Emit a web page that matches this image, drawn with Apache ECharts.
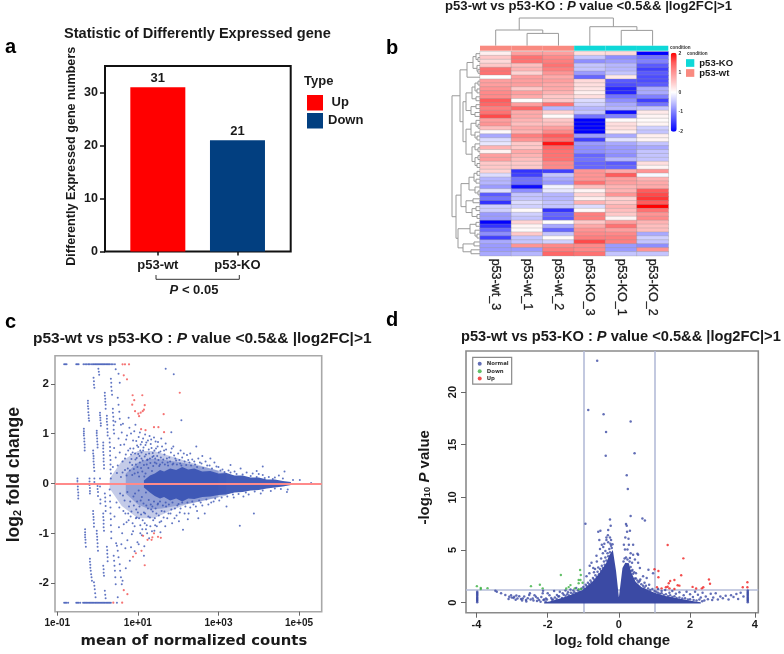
<!DOCTYPE html>
<html><head><meta charset="utf-8">
<script src="https://cdn.jsdelivr.net/npm/echarts@6/dist/echarts.min.js"></script>
<style>html,body{margin:0;padding:0;background:#fff}#c{width:784px;height:654px}</style></head>
<body><div id="c"></div>
<script>
const barCategories=['p53-wt','p53-KO'];
const barUp=[31,null];
const barDown=[null,21];
const barTicks=[0,10,20,30];
const heatColumns=['p53-wt_3','p53-wt_1','p53-wt_2','p53-KO_3','p53-KO_1','p53-KO_2'];
const annotWt=[1,1,1,null,null,null];
const annotKo=[null,null,null,1,1,1];
const heatRows=[
[.15,.9,.9,.3,.35,-2],[.5,1.3,1.1,-.5,-.9,-1.1],[.35,1.3,1.2,-.9,-.8,-1],[.5,.6,1.3,-.5,-.6,-1.3],[1.3,.7,1.2,-.5,-.6,-1.5],[1.3,.4,1,-.8,-.5,-1.3],
[0,.9,.8,-1.2,.2,-1.4],[.9,.9,.9,.35,-1.3,-1.4],[.9,.9,.8,.3,-1.4,-1.3],[1,.5,.8,.25,-1.7,-.7],[1.1,.9,.7,.15,-1.7,-.7],[1.1,.8,.5,.3,-1.1,-1],
[1.5,0,.5,-.3,-.9,-1.5],[1.4,.9,1.3,-.4,-.7,-1.1],[1.2,1.4,-.6,-.6,-.6,-.5],[1.3,.8,.4,-.5,-1.9,.2],[1.6,.8,.05,-1.1,-1,.1],[.9,.7,.5,-2,.05,.05],
[1,.6,.6,-2,.3,.1],[.6,.8,.9,-2,.3,-.4],[.05,.7,1.1,-2,.15,-.5],[-.7,1.2,1.5,-.8,-.7,.15],[-.3,1,1.3,-1.5,-.25,.1],[-.2,.5,1.9,-.8,-.7,-.5],
[.7,.5,1.4,-.9,-.8,-.7],[.1,.8,1.3,-.9,-.8,-.5],[.9,.7,1.3,-1.2,-.9,-.5],[.9,.6,1.3,-1.1,-.6,-.5],[.5,.5,1.1,-1.2,-1.3,.3],[.5,.5,1.1,-1.2,-1.2,.1],
[.4,-1.6,-1.5,1,.8,1],[-.3,-1.5,-.5,1,1.5,-.05],[-.6,-1.1,-.7,1,.9,.7],[-.6,-1.1,-.8,1.3,.9,.8],[-.8,-1.9,-.1,.6,.7,.8],[-.25,-.9,-.2,.1,.7,1.5],
[-1.3,-.5,-.6,.4,1,1.6],[-1.1,-.5,-.6,.15,.4,1.7],[-1.6,-.3,-.5,.7,.5,1.5],[-.4,-.4,-.5,-.3,.7,2],[-.4,.05,-1.6,.05,.6,1.3],[-.8,-.4,-1.2,1.2,.5,1],
[-.8,-.5,-1.3,1.2,.1,1.1],[-2,.4,0,.5,.9,.7],[-1.6,.1,-.7,.8,1.3,.6],[-1.2,.05,-1.2,1,.9,.6],[-.9,.5,-.5,1.1,1.1,-.7],[-1.5,-.5,.05,1.2,1.2,-.4],
[-.7,-.5,-.4,1.6,1.2,-.5],[-.8,1,1.1,1.1,-.8,-.9],[-.8,-.8,1.2,1.1,-.8,1],[-.7,-.6,1.4,1.3,-.5,-.5]];
const colorTickLabels=[2,1,0,-1,-2];
const topTree=[27.7,[15.7,0,[12.3,1,2]],[19,3,[15.3,4,5]]];
const leftTree=[28,
 [20,[13,[7,[4,0,[2,1,2]],[3,3,[2,4,5]]],6],
  [17,[14,[8,[5,[2,7,8],[3,9,10]],[4,11,12]],[9,[4,13,14],[5,15,16]]],
      [14,[9,[4,17,[2,18,19]],[5,20,[3,21,22]]],[8,[5,23,[2,24,25]],[5,[2,26,27],[3,28,29]]]]]],
 [24,[19,[11,[6,[3,30,31],[4,32,33]],[5,34,[2,35,36]]],[14,[7,37,38],[8,[4,39,40],[3,41,42]]]],
     [22,[10,[4,43,44],[5,45,[3,46,47]]],[17,[6,48,49],[9,50,51]]]]];

const maXTicks=[-1,1,3,5];
const maXLabels=['1e-01','1e+01','1e+03','1e+05'];
const maYTicks=[-2,-1,0,1,2];
const maCoreLogMean=[1.15,1.3,1.42,1.55,1.65,1.8,1.95,2.1,2.25,2.4,2.6,2.8,3,3.2,3.4,3.6,3.8,4,4.2,4.4,4.6,4.8];
const maCoreUpper=[.06,.16,.2,.27,.24,.3,.27,.33,.28,.3,.24,.25,.2,.21,.16,.16,.12,.12,.08,.08,.05,.03];
const maCoreLower=[-.08,-.18,-.25,-.3,-.27,-.34,-.3,-.36,-.3,-.31,-.27,-.26,-.23,-.22,-.18,-.17,-.14,-.13,-.1,-.08,-.06,-.03];
const maMidLogMean=[.7,1,1.3,1.6,2,2.4,2.8,3.2];
const maMidUpper=[.2,.42,.5,.48,.43,.37,.3,.22];
const maMidLower=[-.2,-.42,-.52,-.5,-.44,-.38,-.31,-.24];
const maHaloLogMean=[.3,.6,1,1.4,1.8,2.2,2.6,3];
const maHaloUpper=[.1,.45,.65,.65,.55,.45,.35,.25];
const maHaloLower=[-.1,-.45,-.7,-.7,-.55,-.42,-.35,-.28];
const maCapTopX=[-.83,-.8,-.77,-.53,-.5,-.47,-.35,-.31,-.27,-.23,-.2,-.16,-.12,-.09,-.06,-.03,0,.03,.06,.09,.12,.15,.18,.21,.24,.27,.3,.34,.38,.43];
const maCapBottomX=[-.83,-.8,-.77,-.73,-.53,-.5,-.47,-.43,-.36,-.33,-.3,-.27,-.24,-.21,-.18,-.15,-.12,-.09,-.06,-.03,0,.03,.06,.09,.12,.15,.18,.21,.24,.27,.3,.33,.48];
const maStripes=[
[-.5,.1],[-.5,.05],[-.5,0],[-.49,-.06],[-.49,-.12],[-.48,-.18],[-.48,-.24],[-.48,-.3],
[-.34,1.1],[-.34,1.05],[-.34,1],[-.34,.96],[-.33,.9],[-.33,.84],[-.32,.78],[-.32,.72],[-.32,.66],
[-.31,-.92],[-.31,-.98],[-.31,-1.03],[-.31,-1.08],[-.3,-1.13],[-.3,-1.19],[-.29,-1.27],
[-.24,1.66],[-.24,1.61],[-.24,1.55],[-.23,1.5],[-.23,1.43],[-.22,1.37],[-.22,1.31],[-.21,1.26],
[-.2,.1],[-.2,.04],[-.2,-.03],[-.19,-.09],[-.19,-.15],[-.19,-.2],
[-.19,-1.51],[-.19,-1.57],[-.18,-1.63],[-.18,-1.69],[-.17,-1.75],[-.16,-1.82],[-.15,-1.88],[-.14,-1.95],
[-.11,.66],[-.11,.6],[-.1,.55],[-.1,.5],[-.1,.44],[-.09,.38],[-.09,.32],[-.08,.25],[-.08,.1],[-.08,.03],
[-.11,-.55],[-.11,-.61],[-.1,-.67],[-.1,-.73],[-.09,-.8],[-.09,-.87],[-.09,-1.98],[-.08,-2.05],[-.07,-2.12],[-.06,-2.2],[-.05,-2.28],
[-.1,2.12],[-.09,2.05],[-.09,1.98],[-.08,1.92],[.02,2.3],[.03,2.24],[.04,2.18],
[-.02,1.06],[-.02,1.01],[-.02,.96],[-.01,.9],[-.01,.84],[0,.78],[0,.72],
[-.02,-.95],[-.02,-1.01],[-.01,-1.07],[-.01,-1.13],[0,-1.2],[0,-1.27],[.01,-1.35],[0,-.05],[0,-.11],[.01,-.17],[.01,-.25],
[.06,1.42],[.06,1.37],[.07,1.32],[.07,1.27],[.08,1.21],[.08,1.16],[.06,.1],[.06,-.06],[.07,-.32],[.07,-.4],
[.14,.82],[.14,.76],[.14,.7],[.14,.63],[.15,.57],[.15,.5],[.15,.44],[.16,.37],[.16,.3],
[.14,-.6],[.14,-.67],[.15,-.74],[.15,-.81],[.15,-.88],[.16,-.95],[.14,-1.65],[.15,-1.72],[.15,-1.79],[.16,-1.85],
[.18,1.82],[.18,1.76],[.19,1.7],[.19,1.64],[.2,1.58],[.2,1.5],[.18,-.2],[.19,-.28],[.19,-.36],[.2,-.45],[.2,-.55],
[.23,1.36],[.23,1.3],[.23,1.24],[.24,1.18],[.24,1.1],[.25,1.03],[.25,.96],[.23,-1.27],[.24,-1.34],[.24,-1.41],[.25,-1.48],[.25,-1.56],[.18,-2.15],[.19,-2.23],[.2,-2.3],
[.3,.9],[.3,.82],[.31,.73],[.31,.65],[.31,.56],[.32,.47],[.32,.38],[.32,.28],[.33,.2],[.33,.1],[.3,-.12],[.31,-.24],[.31,-.36],[.32,-.48],[.32,-.6],[.33,-.72],[.33,-.84],[.34,-.97],[.34,-1.1],
[.33,2.1],[.34,2.02],[.34,1.94],[.35,1.86],[.36,1.78],[.38,1.5],[.38,1.42],[.39,1.34],[.39,1.26],[.4,1.17],[.4,1.08],[.41,1],
[.4,-1.45],[.41,-1.55],[.42,-1.65],[.43,-1.75],[.44,-1.88],[.45,-2.02],[.52,2.2],[.55,2.02],[.5,1.72],[.52,1.58],[.54,1.44],[.55,1.3],[.58,1.18],[.48,-1.25],[.5,-1.35],[.52,-1.48],[.55,-1.62],[.56,-1.75],[.58,-1.88],[.6,-2.02],[.45,2.29],[.5,-2.28]];
const maCloud=[
[.41,.71],[.45,.52],[.38,.33],[.52,.9],[.55,.62],[.48,.21],[.6,1.02],[.62,.44],[.66,.78],[.58,.13],[.7,.58],[.73,.96],[.75,.3],[.79,1.12],[.81,.7],[.84,.49],[.86,.17],[.88,.86],[.91,1.05],[.93,.6],[.95,.38],[.98,.76],[1,.22],[1.02,.93],[1.04,.55],[1.06,.66],[1.08,.31],[1.1,.83],[1.12,.46],[1.14,.72],[1.16,.14],[1.18,.98],[1.2,.58],[1.22,.38],[1.25,.86],[1.27,.68],[1.3,.5],[1.32,.79],[1.35,.25],[1.37,.61],[1.4,.92],[1.42,.42],[1.45,.7],[1.48,.55],[1.5,.83],[1.53,.35],[1.56,.64],[1.6,.74],[1.63,.48],[1.66,.58],[1.7,.68],[1.74,.42],[1.78,.52],[1.82,.62],[1.86,.38],[1.9,.56],[1.95,.46],[2,.6],[2.05,.4],[2.1,.52],[2.16,.44],[2.22,.57],[2.28,.42],[2.35,.48],[2.42,.38],[2.5,.5],[2.58,.4],[2.68,.44],[2.78,.36],[2.9,.42],[3,.33],[3.1,.28],[3.25,.26],[3.4,.24],[3.55,.3],[3.7,.22],[3.85,.2],[4,.19],[4.1,.17],[4.25,.13],[4.4,.12],[4.6,.1],
[.44,1.24],[.5,.36],[.57,.77],[.63,1.2],[.68,.27],[.71,.88],[.77,1.32],[.8,.42],[.83,1],[.87,.62],[.9,.29],[.94,1.18],[.97,.51],[1.01,.73],[1.05,1.02],[1.09,.62],[1.13,.9],[1.19,.77],[1.24,.48],[1.29,.95],[1.34,.71],[1.39,.55],[1.44,.84],[1.52,.62],[1.58,.9],[1.69,.8],[1.88,.74],[2.06,.66],[2.3,.6],[2.45,.74],[2.6,.55],[2.8,.5],[1.69,2.3],[1.89,2.19],[2.08,1.27],[1.83,1.03],[4.1,.34],[4.64,.24],[4.85,.07],[5.02,.07],[5.3,.01],[3.3,.37],[3.95,.25],[4.5,.16],
[.62,.22],[.68,.5],[.72,.16],[.76,.66],[.8,.26],[.83,.58],[.86,.37],[.89,.7],[.92,.2],[.94,.48],[.96,.85],[.99,.33],[1.01,.59],[1.03,.14],[1.05,.42],[1.07,.78],[1.09,.5],[1.11,.24],[1.13,.66],[1.15,.37],[1.17,.54],[1.19,.2],[1.21,.82],[1.23,.47],[1.26,.31],[1.28,.6],[1.31,.41],[1.33,.88],[1.36,.53],[1.38,.35],[1.41,.66],[1.43,.5],[1.46,.4],[1.49,.74],[1.51,.47],[1.55,.38],[1.57,.52],[1.61,.42],[1.65,.66],[1.67,.38],[1.72,.5],[1.75,.36],[1.8,.44],[1.84,.7],[1.88,.4],[1.93,.5],[1.97,.38],[2.03,.47],[2.08,.36],[2.14,.6],[2.2,.37],[2.25,.47],[2.32,.36],[2.4,.44],[2.47,.33],[2.54,.42],[2.62,.31],[2.72,.36],[2.84,.3],[2.95,.34],[3.05,.26],[3.15,.23],[3.3,.22],[3.45,.19],[3.6,.18],[3.8,.15],[3.95,.13],[4.15,.11],[4.35,.09],
[.42,-.66],[.47,-.38],[.53,-.88],[.56,-.2],[.61,-1],[.64,-.55],[.67,-.34],[.72,-.78],[.74,-1.14],[.78,-.46],[.82,-.66],[.85,-1.02],[.89,-.26],[.92,-.86],[.96,-.52],[.99,-1.18],[1.03,-.7],[1.07,-.34],[1.11,-.92],[1.15,-.58],[1.17,-.8],[1.21,-.44],[1.23,-1],[1.26,-.66],[1.31,-.86],[1.33,-.52],[1.38,-.74],[1.41,-.95],[1.46,-.6],[1.49,-.42],[1.54,-.78],[1.59,-.55],[1.64,-.68],[1.7,-.46],[1.76,-.6],[1.83,-.52],[1.91,-.7],[1.98,-.44],[2.04,-.58],[2.12,-.93],[2.18,-.46],[2.26,-.6],[2.38,-.42],[2.47,-.55],[2.56,-.38],[2.66,-.6],[2.75,-.42],[2.88,-.36],[3.02,-.34],[3.2,-.46],[3.38,-.28],[3.53,-.85],[3.62,-.26],[3.75,-.22],[3.88,-.6],[4.05,-.2],[4.3,-.15],[4.55,-.11],[4.7,-.17],[4.72,-.12],
[.46,-1.2],[.54,-.48],[.59,-1.22],[.65,-.82],[.69,-1.3],[.76,-.6],[.83,-1.28],[.88,-.96],[.92,-1.36],[.97,-.68],[1.02,-1.22],[1.06,-.84],[1.1,-1.04],[1.16,-1.26],[1.2,-.92],[1.28,-1.1],[1.36,-.46],[1.43,-.84],[1.56,-.98],[1.68,-.86],[1.85,-.8],[2.02,-.76],[2.24,-.72],[2.5,-.7],[1.15,-1.45],[.8,-1.55],[.7,-1.7],[.62,-1.95],
[.63,-.24],[.69,-.6],[.74,-.17],[.77,-.74],[.81,-.36],[.84,-.56],[.87,-.8],[.9,-.44],[.93,-.2],[.95,-.7],[.98,-.36],[1,-.58],[1.02,-.14],[1.04,-.46],[1.06,-1],[1.08,-.62],[1.1,-.27],[1.12,-.74],[1.14,-.4],[1.18,-.6],[1.2,-.18],[1.22,-.84],[1.25,-.5],[1.27,-.33],[1.3,-.68],[1.32,-.42],[1.35,-.96],[1.37,-.56],[1.4,-.36],[1.42,-.7],[1.44,-.5],[1.47,-.86],[1.5,-.4],[1.52,-.64],[1.55,-.36],[1.58,-.76],[1.62,-.44],[1.66,-.56],[1.69,-.38],[1.73,-.7],[1.77,-.42],[1.81,-.6],[1.86,-.38],[1.92,-.5],[1.96,-.64],[2.01,-.41],[2.06,-.5],[2.1,-.38],[2.16,-.6],[2.23,-.38],[2.3,-.48],[2.35,-.36],[2.44,-.46],[2.52,-.34],[2.6,-.44],[2.7,-.32],[2.82,-.38],[2.92,-.3],[3.08,-.28],[3.22,-.26],[3.36,-.22],[3.5,-.21],[3.68,-.18],[3.9,-.16],[4.1,-.14],[4.4,-.1]];
const maUpRed=[[.62,2.39],[.68,2.39],[.78,2.39],[.65,2.17],[.73,2.09],[.87,1.77],[.91,1.67],[1.11,1.77],[.86,1.58],[1.17,1.57],[.93,1.45],[1.01,1.4],[1.12,1.45],[1.15,1.48],[1.03,1.35],[1.07,1.42],[1.64,1.39],[2.04,1.82],[1.08,1.09],[1.19,1.07],[1.4,1.13],[1.51,1.13],[1.65,1.03]];
const maDownRed=[[1.4,-1],[1.36,-1.08],[1.13,-1.05],[1.24,-1.13],[1.34,-1.13],[1.5,-1.07],[1.57,-1.09],[1.09,-1.35],[.95,-1.4],[.88,-1.47],[1.17,-1.64],[.65,-2.14],[.74,-2.22],[.39,-2.39],[.61,-2.39]];

const vTicksX=[-4,-2,0,2,3.82];
const vTickXLabels=['-4','-2','0','2','4'];
const vTicksY=[0,5,10,15,20];
const vEdgeX=[-2.1,-1.95,-1.7,-1.5,-1.25,-1.02,-.74,-.55,-.36,-.27,-.17,-.08,0,.1,.18,.28,.34,.47,.63,1,1.3,1.8,2.1,2.3,2.3,-2.1];
const vEdgeY=[.04,.12,.36,.57,.88,1.2,2,2.8,3.75,4.5,5,3,.5,3.3,3.8,3.75,2.95,2,1.5,.95,.63,.32,.14,.04,-.08,-.08];
const vNormal=[
[-.61,22.97],[-.86,18.3],[-.43,17.9],[.33,17.2],[-.36,16.2],[.44,14.2],[-.37,13.96],[.22,12.1],[.25,10.8],[.33,8.23],[-.25,7.9],[.66,8],[.73,7.8],[-.94,7.5],[.2,7.47],[.22,7.3],[-.23,7.3],
[-.58,6.74],[-.52,6.84],[-.3,6.9],[.23,6.74],[.31,6.84],[.18,6.2],[.27,6.08],[-.31,6.4],[-.35,6.2],[-.25,6.2],[-.22,5.95],[-.55,5.95],[-.48,5.5],[-.35,5.95],[-.41,5.6],[-.3,5.75],[-.24,5.6],[-.44,5.3],[-.53,5.1],[-.63,4.45],[-.77,3.8],[-.82,3.5],[-.72,3.3],[-.67,3.2],[-.58,3.35],[-.83,2.8],[-.91,2.5],[-.5,4.2],[-.62,3.9],[-.7,2.9],[-.45,4.7],[-.38,4.9],
[.14,5.5],[.28,5.5],[.4,5.5],[.17,5.05],[.24,5.05],[.33,4.7],[.4,4.55],[.52,4.65],[.54,4.55],[.45,4.1],[.31,4.25],[.37,3.8],[.54,3.8],[.59,3.3],[.38,3.1],[.48,2.8],[.83,3.13],[.96,2.8],[.68,2.5],[.45,2.3],[.78,2.35],[.6,2.2],[.31,3],[.72,1.9],[.85,1.7],
[-3.47,1.14],[-3.43,1.04],[-3.31,.89],[-3.19,.73],[-3.08,.57],[-3.03,.7],[-2.94,.57],[-2.85,.41],[-2.8,.62],[-2.7,.41],[-2.61,.25],[-2.52,.73],[-2.42,.41],[-2.33,.57],[-2.24,.25],[-2.14,.9],[-2.05,.41],[-1.95,.7],[-2.96,.45],[-2.88,.68],[-2.75,.34],[-2.66,.6],[-2.56,.43],[-2.48,.3],[-2.37,.7],[-2.28,.42],[-2.18,.55],[-2.1,.3],[-2,.9],[-1.9,.45],[-1.82,1.1],[-1.74,.72],[-1.66,1.05],[-1.58,.9],[-1.5,1.15],[-1.43,1],[-1.36,1.25],[-1.28,1.15],[-1.2,1.4],[-1.85,.3],[-1.7,.6],[-2.13,1.14],[-2.5,.9],[-3.01,.5],
[-1.88,.28],[-1.8,.5],[-1.75,.35],[-1.68,.62],[-1.6,.45],[-1.55,.75],[-1.5,.65],[-1.45,.8],[-1.4,.68],[-1.35,.95],[-1.3,.85],[-1.25,1],[-1.2,.9],[-1.15,1.15],[-1.1,1.05],[-1.05,1.35],[-1,1.5],[-.97,1.3],[-.93,1.7],[-.9,1.55],[-.87,1.9],[-.83,1.75],[-.8,2.1],[-.77,1.95],[-.73,2.35],[-.7,2.2],[-.66,2.6],[-.62,2.45],[-.6,2.95],[-.56,2.7],[-.53,3.2],[-.5,3],[-.48,3.5],[-.45,3.3],[-.42,3.9],[-.4,3.6],[-.38,4.3],[-.35,4],[-.32,4.7],[-.3,4.4],[-.27,5.1],[-.25,4.8],[-.22,5.4],[-.2,5.2],[-.18,5.55],
[-2.3,.15],[-2.2,.08],[-2.12,.25],[-2.06,.12],[-2.02,.3],[-2.4,.2],[-2.6,.12],[-2.72,.2],[-2.9,.28],[-3.1,.35],
[.13,3.9],[.16,4.2],[.2,4.3],[.24,4.1],[.3,3.9],[.33,3.4],[.36,3],[.4,2.75],[.43,2.9],[.48,2.3],[.52,2.1],[.55,1.95],[.58,2.05],[.63,1.75],[.68,1.6],[.72,1.45],[.76,1.6],[.82,1.35],[.88,1.2],[.94,1.3],[1,1.1],[1.05,1.05],[1.1,.95],[1.15,.85],[1.2,.9],[1.26,.72],[1.32,.8],[1.38,.62],[1.44,.7],[1.5,.55],[1.56,.62],[1.62,.45],[1.7,.5],[1.78,.4],[1.86,.42],[1.94,.3],[2,.33],[2.1,.25],[2.18,.2],[2.26,.3],[2.34,.14],
[1.1,1.3],[1.2,1.1],[1.3,1.2],[1.42,.95],[1.5,1.1],[1.6,.85],[1.7,1],[1.82,.7],[1.9,1.05],[2,.8],[2.08,.55],[2.14,1.05],[2.22,.75],[2.3,.5],[2.35,.95],[2.44,.6],[2.5,.32],[2.58,.85],[2.65,.5],[2.72,.9],[2.78,.3],[2.85,.6],[2.92,.42],[3,.65],[3.08,.3],[3.15,.7],[3.22,.55],[3.3,.82],[3.35,.35],[3.42,.95],[3.5,.6],[2.4,.2],[2.62,.25]];
const vStackLeft=[[-3.98,.05],[-3.98,.15],[-3.98,.25],[-3.98,.35],[-3.98,.45],[-3.98,.55],[-3.98,.65],[-3.98,.75],[-3.98,.85],[-3.98,.95],[-3.98,1.05]];
const vStackRight=[[3.62,.05],[3.62,.15],[3.62,.25],[3.62,.35],[3.62,.45],[3.62,.55],[3.62,.65],[3.62,.75],[3.62,.85],[3.62,.95],[3.62,1.05],[3.62,1.15]];
const vDown=[[-3.99,1.57],[-3.88,1.41],[-3.88,1.3],[-3.69,1.38],[-2.47,1.57],[-2.22,1.7],[-2.14,1.36],[-1.63,2.63],[-1.09,3.1],[-1.07,2.63],[-1.13,2.15],[-1.08,2.15],[-1.13,1.85],[-1.02,1.9],[-1.36,1.67],[-1.41,1.48],[-1.48,1.35],[-1.24,1.36],[-1.13,1.27],[-1.06,1.3]];
const vUp=[[1.37,5.48],[1.81,4.21],[1.75,2.6],[1,3.17],[1.11,3.01],[1.11,2.41],[1.56,2.16],[1.44,2.06],[1.4,1.84],[1.37,1.52],[1.32,1.46],[1.42,1.36],[1.65,1.65],[1.7,1.62],[1.07,1.46],[1.2,1.36],[1.56,1.3],[2.07,1.5],[2.17,1.35],[2.33,1.36],[2.37,1.46],[2.53,2.2],[2.56,1.8],[3.48,1.46],[3.61,1.94],[3.61,1.46]];

const F='"Liberation Sans",Arial,sans-serif', INK='#1a1a1a';
const titleText='p53-wt vs p53-KO : {i|P} value <0.5&& |log2FC|>1';
function mkTitle(left,top,size,text){
  return {text:text||titleText,left,top,padding:0,textStyle:{fontFamily:F,fontWeight:'bold',fontSize:size,color:INK,
    rich:{i:{fontFamily:F,fontWeight:'bold',fontStyle:'italic',fontSize:size,color:INK}}}};
}
function flatten(node,out){
  if(typeof node==='number')return {p:node+.5,h:0};
  const a=flatten(node[1],out),b=flatten(node[2],out);
  out.push([a.p,a.h,b.p,b.h,node[0]]);
  return {p:(a.p+b.p)/2,h:node[0]};
}
const topSegs=[],leftSegs=[];flatten(topTree,topSegs);flatten(leftTree,leftSegs);
const heatData=[];heatRows.forEach((r,y)=>r.forEach((v,x)=>heatData.push([x,y,v])));
function polygonSeries(name,xi,pts,color,opacity){
  return {type:'custom',name,xAxisIndex:xi,yAxisIndex:xi,data:pts,silent:true,z:1,
    renderItem(p,api){
      if(p.dataIndex!==0)return null;
      return {type:'polygon',shape:{points:pts.map(q=>api.coord(q))},style:{fill:color,opacity}};
    }};
}
function band(x,up,lo){return x.map((v,i)=>[v,up[i]]).concat(x.map((v,i)=>[v,lo[i]]).reverse());}
function dendro(name,xi,segs,horizontal){
  return {type:'custom',name,xAxisIndex:xi,yAxisIndex:xi,data:segs,silent:true,clip:false,
    renderItem(p,api){
      const v=[0,1,2,3,4].map(i=>api.value(i));
      const pt=(pos,h)=>api.coord(horizontal?[pos,h]:[h,pos]);
      return {type:'polyline',shape:{points:[pt(v[0],v[1]),pt(v[0],v[4]),pt(v[2],v[4]),pt(v[2],v[3])]},
        style:{stroke:'#9a9a9a',lineWidth:1,fill:null}};
    }};
}
const hide={show:false};
const noLine={show:false,onZero:false};
const hiddenVal=(gridIndex,min,max,inverse)=>({type:'value',gridIndex,min,max,inverse:!!inverse,show:false,splitLine:hide});
const boldLabel=(size,extra)=>Object.assign({fontFamily:F,fontWeight:'bold',fontSize:size,color:INK},extra||{});
const nameRich=(size,padding)=>({padding,rich:{b:{fontFamily:F,fontWeight:'bold',fontSize:size,color:INK},s:{fontFamily:F,fontWeight:'bold',fontSize:size*.62,color:INK,verticalAlign:'bottom'},i:{fontFamily:F,fontWeight:'bold',fontStyle:'italic',fontSize:size,color:INK}}});

const option={
 animation:false,backgroundColor:'#fff',
 title:[mkTitle(64,26,14.6,'Statistic of Differently Expressed gene'),mkTitle(445,0,13.15),mkTitle(33,331,15.5),mkTitle(461,329,14.65)],
 grid:[
  {left:105,top:66,width:185.7,height:185.5,show:true,borderColor:'#111',borderWidth:2,backgroundColor:'transparent'},
  {left:118,top:66,width:159.3,height:185.5},
  {left:480,top:51.7,width:188.3,height:204},
  {left:480,top:45.7,width:188.3,height:5},
  {left:480,top:15.7,width:188.3,height:30},
  {left:450,top:51.7,width:30,height:204},
  {left:55,top:355.7,width:266.7,height:256,show:true,borderColor:'#a8a8a8',borderWidth:1.6,backgroundColor:'transparent'},
  {left:466,top:351,width:292.3,height:261.7,show:true,borderColor:'#8a8a8a',borderWidth:1.6,backgroundColor:'transparent'}
 ],
 xAxis:[
  hiddenVal(0,0,1),
  {type:'category',gridIndex:1,data:barCategories,axisLine:noLine,splitLine:hide,
    axisTick:{show:true,alignWithLabel:true,length:4,lineStyle:{color:'#111',width:1.5}},axisLabel:boldLabel(13,{margin:7})},
  {type:'category',gridIndex:2,data:heatColumns,axisLine:noLine,axisTick:hide,splitArea:hide,
    axisLabel:boldLabel(12.5,{rotate:-90,margin:3,fontWeight:'normal',textBorderColor:INK,textBorderWidth:.3})},
  {type:'category',gridIndex:3,data:heatColumns,show:false},
  hiddenVal(4,0,6),
  hiddenVal(5,0,30,true),
  {type:'value',gridIndex:6,min:-1.057,max:5.563,splitLine:hide,axisLine:noLine,
    axisTick:{show:true,length:4,lineStyle:{color:'#666'},customValues:maXTicks},
    axisLabel:boldLabel(10,{margin:7,customValues:maXTicks,formatter:v=>maXLabels[maXTicks.indexOf(v)]}),
    name:'mean of normalized counts',nameLocation:'middle',nameGap:22,
    nameTextStyle:{fontFamily:'"DejaVu Sans",sans-serif',fontWeight:'bold',fontSize:14.8,color:INK,padding:[0,0,0,11]}},
  {type:'value',gridIndex:7,min:-4.295,max:3.916,splitLine:hide,axisLine:noLine,
    axisTick:{show:true,length:5,lineStyle:{color:'#666'},customValues:vTicksX},
    axisLabel:boldLabel(11,{margin:7,customValues:vTicksX,formatter:v=>vTickXLabels[vTicksX.indexOf(v)]}),
    name:'{b|log}{s|2}{b| fold change}',nameLocation:'middle',nameGap:21,nameTextStyle:nameRich(15)}
 ],
 yAxis:[
  {type:'value',gridIndex:0,min:0,max:35,splitLine:hide,axisLine:noLine,
    axisTick:{show:true,length:5,lineStyle:{color:'#111',width:1.5},customValues:barTicks},
    axisLabel:boldLabel(12.5,{margin:7,customValues:barTicks}),
    name:'Differently Expressed gene numbers',nameLocation:'middle',nameGap:27,
    nameTextStyle:boldLabel(12.6,{padding:[0,0,0,5]})},
  hiddenVal(1,0,35),
  {type:'category',gridIndex:2,inverse:true,show:false,data:heatRows.map((r,i)=>String(i))},
  hiddenVal(3,0,1),
  hiddenVal(4,0,30),
  hiddenVal(5,0,52,true),
  {type:'value',gridIndex:6,min:-2.572,max:2.563,splitLine:hide,axisLine:noLine,
    axisTick:{show:true,length:4,lineStyle:{color:'#666'},customValues:maYTicks},
    axisLabel:boldLabel(11.5,{margin:6,customValues:maYTicks}),
    name:'{b|log}{s|2}{b| fold change}',nameLocation:'middle',nameGap:32,nameTextStyle:nameRich(17.5,[0,0,0,18])},
  {type:'value',gridIndex:7,min:-.95,max:23.9,splitLine:hide,axisLine:noLine,
    axisTick:{show:true,length:5,lineStyle:{color:'#666'},customValues:vTicksY},
    axisLabel:boldLabel(11,{margin:8,rotate:90,customValues:vTicksY}),
    name:'{b|-log}{s|10}{b| }{i|P}{b| value}',nameLocation:'middle',nameGap:34,nameTextStyle:nameRich(15,[0,0,0,9])}
 ],
 visualMap:[{type:'continuous',seriesIndex:4,min:-2,max:2,left:670.7,top:52.7,itemWidth:6,itemHeight:79,
   text:['',''],calculable:false,hoverLink:false,padding:0,
   inRange:{color:['#0000ff','#4040ff','#8080ff','#c4c4ff','#ffffff','#ffc8c8','#ff9494','#ff5c5c','#ff0000']}}],
 legend:[
  {data:['Up','Down'],orient:'vertical',left:307,top:95,padding:0,itemWidth:16,itemHeight:15.5,itemGap:2.5,selectedMode:false,icon:'rect',
    formatter:n=>n==='Up'?' Up':n,textStyle:boldLabel(13)},
  {data:['p53-KO','p53-wt'],orient:'vertical',left:686,top:58,padding:0,itemWidth:8.3,itemHeight:7.7,itemGap:0,selectedMode:false,icon:'rect',
    textStyle:boldLabel(9.5)},
  {data:['vNormal','vDown','vUp'],orient:'vertical',left:472.7,top:357.3,padding:[4,3,3,5],itemWidth:4,itemHeight:4,itemGap:2.4,selectedMode:false,
    backgroundColor:'#fff',borderColor:'#8a8a8a',borderWidth:1.2,icon:'circle',
    formatter:n=>n.slice(1),textStyle:{fontFamily:'"DejaVu Sans",sans-serif',fontSize:5.4,color:'#333',fontWeight:'bold'}}
 ],
 series:[
  {type:'bar',name:'Up',xAxisIndex:1,yAxisIndex:1,data:barUp,barWidth:55,barGap:'-100%',itemStyle:{color:'#ff0000'},
    label:{show:true,position:'top',distance:2,...boldLabel(13)}},
  {type:'bar',name:'Down',xAxisIndex:1,yAxisIndex:1,data:barDown,barWidth:55,barGap:'-100%',itemStyle:{color:'#023f80'},
    label:{show:true,position:'top',distance:2,...boldLabel(13)}},
  {type:'bar',name:'p53-wt',xAxisIndex:3,yAxisIndex:3,data:annotWt,barWidth:'100%',barGap:'-100%',itemStyle:{color:'#f98a80'}},
  {type:'bar',name:'p53-KO',xAxisIndex:3,yAxisIndex:3,data:annotKo,barWidth:'100%',barGap:'-100%',itemStyle:{color:'#0fd8d8'}},
  {type:'heatmap',name:'heat',xAxisIndex:2,yAxisIndex:2,data:heatData,silent:true,progressive:0,
    itemStyle:{borderColor:'rgba(150,150,150,.55)',borderWidth:.6}},
  dendro('dendroTop',4,topSegs,true),
  dendro('dendroLeft',5,leftSegs,false),
  polygonSeries('maHalo',6,band(maHaloLogMean,maHaloUpper,maHaloLower),'#3a54b4',.3),
  polygonSeries('maMid',6,band(maMidLogMean,maMidUpper,maMidLower),'#3a54b4',.35),
  polygonSeries('maCore',6,band(maCoreLogMean,maCoreUpper,maCoreLower),'#3a54b4',.95),
  {type:'scatter',name:'maNormal',xAxisIndex:6,yAxisIndex:6,symbolSize:2,silent:true,itemStyle:{color:'#3a54b4'},z:2,
    data:maStripes.concat(maCloud,maCapTopX.map(x=>[x,2.39]),maCapBottomX.map(x=>[x,-2.39])),
    markLine:{silent:true,symbol:'none',label:hide,animation:false,lineStyle:{color:'#ff8a8a',width:2.2,type:'solid'},data:[{yAxis:0}],z:5}},
  {type:'scatter',name:'maSig',xAxisIndex:6,yAxisIndex:6,symbolSize:2.2,silent:true,itemStyle:{color:'#f25050'},z:3,data:maUpRed.concat(maDownRed)},
  polygonSeries('vCore',7,vEdgeX.map((x,i)=>[x,vEdgeY[i]]),'#3b4aa4',1),
  {type:'scatter',name:'vNormal',xAxisIndex:7,yAxisIndex:7,symbolSize:2.5,silent:true,itemStyle:{color:'#3b4aa4'},z:2,
    data:vNormal.concat(vStackLeft,vStackRight),
    markLine:{silent:true,symbol:'none',label:hide,animation:false,lineStyle:{color:'#b4bcd8',width:1.6,type:'solid'},z:0,
      data:[{xAxis:-1},{xAxis:1},{yAxis:1.27}]}},
  {type:'scatter',name:'vDown',xAxisIndex:7,yAxisIndex:7,symbolSize:2.4,silent:true,itemStyle:{color:'#3cb043'},z:3,data:vDown},
  {type:'scatter',name:'vUp',xAxisIndex:7,yAxisIndex:7,symbolSize:2.4,silent:true,itemStyle:{color:'#f02020'},z:3,data:vUp}
 ],
 graphic:[
  ...[['a',5,47],['b',386,48],['c',5,322],['d',386,320]].map(([t,x,y])=>({type:'text',x,y,style:{text:t,font:'bold 20px '+F,fill:'#000',textVerticalAlign:'middle'}})),
  {type:'text',x:304,y:81,style:{text:'Type',font:'bold 13px '+F,fill:INK,textVerticalAlign:'middle'}},
  {type:'polyline',shape:{points:[[156,275],[156,279.3],[239.3,279.3],[239.3,275]]},style:{stroke:'#333',lineWidth:1,fill:null}},
  {type:'text',x:194,y:290,style:{text:'{i|P} < 0.05',textAlign:'center',textVerticalAlign:'middle',font:'bold 13px '+F,fill:INK,
    rich:{i:{font:'italic bold 13px '+F,fill:INK}}}},
  {type:'text',x:670,y:48,style:{text:'condition',font:'bold 4.6px '+F,fill:'#333',textVerticalAlign:'middle'}},
  {type:'text',x:687,y:54,style:{text:'condition',font:'bold 4.6px '+F,fill:'#333',textVerticalAlign:'middle'}},
  ...colorTickLabels.map((t,i)=>({type:'text',x:678.5,y:53.3+i*19.6,style:{text:String(t),font:'bold 5px '+F,fill:'#333',textVerticalAlign:'middle'}}))
 ]
};
echarts.init(document.getElementById('c'),null,{renderer:'canvas'}).setOption(option);
</script></body></html>
